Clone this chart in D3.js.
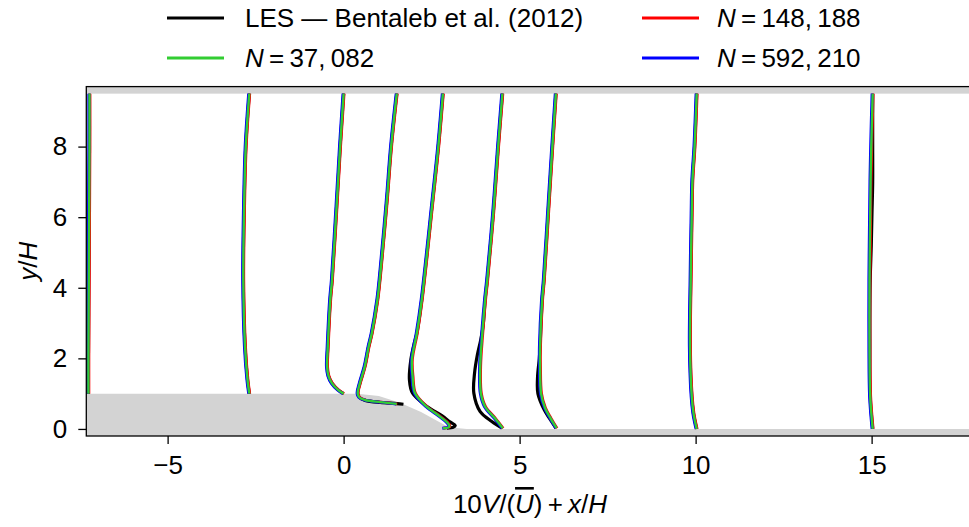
<!DOCTYPE html>
<html><head><meta charset="utf-8">
<script src="https://cdn.jsdelivr.net/npm/d3@7"></script>
<style>
html,body{margin:0;padding:0;background:#fff;}
svg{display:block;font-family:"Liberation Sans",Arial,sans-serif;}
</style></head>
<body>
<svg id="chart" width="969" height="527"></svg>
<script>
// ---------- data ----------
const xTicks = [-5, 0, 5, 10, 15];
const yTicks = [0, 2, 4, 6, 8];
const seriesNames = ["LES \u2014 Bentaleb et al. (2012)", "N = 37, 082", "N = 148, 188", "N = 592, 210"];
const seriesColors = ["#000000", "#32cd32", "#ff0000", "#0000ff"];

// hill (lower wall) outline and channel top
const hillX = [-7.31, 0.40, 1.00, 1.60, 2.20, 2.60, 2.90, 3.20, 3.50, 17.9];
const hillY = [1.00, 1.00, 0.93, 0.74, 0.48, 0.26, 0.10, 0.03, 0.00, 0.00];
const topWallY = 9.5;

// profiles: plotted value 10V/U + x/H against y/H
const sim1Y = [1.00, 2.00, 4.00, 6.00, 8.00, 9.50];
const sim1X = [-7.25, -7.25, -7.24, -7.23, -7.22, -7.22];
const les1Y = [1.00, 2.00, 4.00, 6.00, 8.00, 9.50];
const les1X = [-7.25, -7.25, -7.24, -7.23, -7.22, -7.22];

const sim2Y = [1.00, 1.39, 2.33, 4.22, 6.12, 8.00, 9.50];
const sim2X = [-2.68, -2.73, -2.80, -2.85, -2.83, -2.78, -2.68];
const les2Y = [1.00, 1.39, 2.33, 4.22, 6.12, 8.00, 9.50];
const les2X = [-2.68, -2.73, -2.80, -2.85, -2.83, -2.78, -2.68];

const sim3Y = [1.00, 1.10, 1.29, 1.50, 1.77, 2.33, 3.66, 4.22, 6.30, 8.00, 9.50];
const sim3X = [0.00, -0.15, -0.33, -0.43, -0.47, -0.45, -0.38, -0.33, -0.20, -0.10, 0.00];
const les3Y = [1.00, 1.10, 1.29, 1.50, 1.77, 2.33, 3.66, 4.22, 6.30, 8.00, 9.50];
const les3X = [0.00, -0.15, -0.33, -0.43, -0.47, -0.45, -0.38, -0.33, -0.20, -0.10, 0.00];

const sim4Y = [0.71, 0.76, 0.82, 0.89, 1.01, 1.29, 1.77, 2.33, 2.71, 3.66, 4.60, 6.49, 8.00, 9.50];
const sim4X = [1.51, 1.04, 0.61, 0.45, 0.40, 0.46, 0.60, 0.71, 0.80, 0.96, 1.06, 1.23, 1.35, 1.51];
const les4Y = [0.70, 0.72, 0.75, 0.81, 0.89, 1.01, 1.29, 1.77, 2.33, 2.71, 3.66, 4.60, 6.49, 8.00, 9.50];
const les4X = [1.70, 1.51, 1.04, 0.61, 0.45, 0.40, 0.46, 0.60, 0.71, 0.80, 0.96, 1.06, 1.23, 1.35, 1.51];

const sim5Y = [0.02, 0.06, 0.14, 0.35, 0.63, 1.01, 1.48, 1.96, 2.71, 3.66, 6.49, 8.00, 9.50];
const sim5X = [2.82, 3.00, 2.98, 2.74, 2.36, 2.03, 1.96, 1.94, 2.08, 2.22, 2.53, 2.69, 2.82];
const les5Y = [0.02, 0.05, 0.10, 0.20, 0.37, 0.63, 1.01, 1.39, 1.96, 2.40, 2.71, 3.66, 6.49, 8.00, 9.50];
const les5X = [2.93, 3.12, 3.17, 3.02, 2.80, 2.38, 1.96, 1.87, 1.91, 2.00, 2.08, 2.22, 2.53, 2.69, 2.82];

const sim6Y = [0.02, 0.30, 0.63, 1.01, 1.77, 2.71, 3.66, 4.22, 6.11, 8.00, 9.50];
const sim6X = [4.52, 4.30, 4.02, 3.90, 3.88, 3.94, 4.02, 4.08, 4.25, 4.39, 4.51];
const les6Y = [0.02, 0.21, 0.49, 1.01, 1.58, 2.10, 2.50, 2.90, 3.66, 4.22, 6.11, 8.00, 9.50];
const les6X = [4.50, 4.21, 3.88, 3.70, 3.72, 3.80, 3.89, 3.96, 4.02, 4.08, 4.25, 4.39, 4.51];

const sim7Y = [0.02, 0.30, 0.60, 1.00, 1.77, 2.33, 3.66, 4.22, 6.11, 8.00, 9.50];
const sim7X = [6.05, 5.88, 5.72, 5.61, 5.58, 5.58, 5.64, 5.69, 5.81, 5.93, 6.03];
const les7Y = [0.02, 0.30, 0.54, 1.00, 1.48, 2.00, 2.33, 3.66, 4.22, 6.11, 8.00, 9.50];
const les7X = [6.03, 5.85, 5.70, 5.52, 5.51, 5.56, 5.58, 5.64, 5.69, 5.81, 5.93, 6.03];

const sim8Y = [0.00, 0.44, 0.92, 2.33, 4.22, 6.11, 7.06, 8.00, 9.50];
const sim8X = [10.03, 9.94, 9.89, 9.84, 9.86, 9.89, 9.91, 9.97, 10.03];
const les8Y = [0.00, 0.44, 0.92, 2.33, 4.22, 6.11, 7.06, 8.00, 9.50];
const les8X = [10.03, 9.94, 9.89, 9.84, 9.86, 9.89, 9.91, 9.97, 10.03];

const sim9Y = [0.00, 0.92, 2.33, 4.22, 5.20, 6.11, 7.00, 8.00, 9.50];
const sim9X = [15.03, 14.96, 14.94, 14.94, 14.95, 14.96, 14.97, 14.99, 15.03];
const les9Y = [0.00, 0.92, 2.33, 4.22, 5.20, 6.11, 7.00, 8.00, 9.50];
const les9X = [15.03, 14.96, 14.95, 14.96, 14.99, 15.01, 15.03, 15.03, 15.03];

// ---------- build ----------
const zip = (xs, ys) => xs.map((v, i) => [v, ys[i]]);
const lesProfiles = [
  zip(les1X, les1Y), zip(les2X, les2Y), zip(les3X, les3Y), zip(les4X, les4Y), zip(les5X, les5Y),
  zip(les6X, les6Y), zip(les7X, les7Y), zip(les8X, les8Y), zip(les9X, les9Y)];
const simProfiles = [
  zip(sim1X, sim1Y), zip(sim2X, sim2Y), zip(sim3X, sim3Y), zip(sim4X, sim4Y), zip(sim5X, sim5Y),
  zip(sim6X, sim6Y), zip(sim7X, sim7Y), zip(sim8X, sim8Y), zip(sim9X, sim9Y)];

const L = 86.3, T = 86.6, R = 973.7, B = 436;
const x = d3.scaleLinear().domain([-7.31, 17.9]).range([L, R]);
const y = d3.scaleLinear().domain([-0.2, 9.7]).range([B, T]);

const svg = d3.select("#chart");
svg.append("defs").append("clipPath").attr("id", "clip")
  .append("rect").attr("x", L).attr("y", T).attr("width", R - L).attr("height", B - T);

const plot = svg.append("g").attr("clip-path", "url(#clip)");

// walls
plot.append("rect")
  .attr("x", L).attr("y", y(9.7)).attr("width", R - L).attr("height", y(topWallY) - y(9.7))
  .attr("fill", "#d3d3d3");
const hillPts = [[hillX[0], -0.2]].concat(zip(hillX, hillY)).concat([[hillX[hillX.length - 1], -0.2]]);
plot.append("path")
  .attr("d", d3.line().x(d => x(d[0])).y(d => y(d[1]))(hillPts) + "Z")
  .attr("fill", "#d3d3d3");

const line = d3.line().x(d => x(d[0])).y(d => y(d[1])).curve(d3.curveCatmullRom.alpha(0.5));

function drawSeries(profiles, color, width, dx) {
  const g = plot.append("g").attr("transform", `translate(${dx},0)`);
  g.selectAll("path").data(profiles).join("path")
    .attr("d", line).attr("fill", "none").attr("stroke", color)
    .attr("stroke-width", width).attr("stroke-linejoin", "round");
}
drawSeries(lesProfiles, seriesColors[0], 3.2, 0);
drawSeries(simProfiles, seriesColors[2], 2.8, 0.5);
drawSeries(simProfiles, seriesColors[3], 3.0, -0.6);
drawSeries(simProfiles, seriesColors[1], 2.4, 0);

// axes
const fs = 26;
const ax = svg.append("g").attr("transform", `translate(0,${B})`)
  .call(d3.axisBottom(x).tickValues(xTicks).tickSize(8).tickSizeOuter(0).tickPadding(12)
    .tickFormat(d => d < 0 ? "\u2212" + Math.abs(d) : d));
const ay = svg.append("g").attr("transform", `translate(${L},0)`)
  .call(d3.axisLeft(y).tickValues(yTicks).tickSize(8).tickSizeOuter(0).tickPadding(11));
[ax, ay].forEach(a => {
  a.select(".domain").remove();
  a.selectAll("line").attr("stroke", "#000").attr("stroke-width", 1.3);
  a.selectAll("text").attr("font-size", fs).attr("fill", "#000")
    .attr("font-family", '"Liberation Sans", Arial, sans-serif');
});

// frame (right side lies outside the window)
svg.append("rect").attr("x", L).attr("y", T).attr("width", R - L).attr("height", B - T)
  .attr("fill", "none").attr("stroke", "#000").attr("stroke-width", 1.3);

// axis labels
const xl = svg.append("text").attr("x", (L + R) / 2).attr("y", 513)
  .attr("text-anchor", "middle").attr("font-size", fs);
xl.append("tspan").text("10");
xl.append("tspan").attr("font-style", "italic").text("V");
xl.append("tspan").text("/(");
xl.append("tspan").attr("font-style", "italic").style("text-decoration", "overline").text("U");
xl.append("tspan").text(")\u2009+\u2009");
xl.append("tspan").attr("font-style", "italic").text("x");
xl.append("tspan").text("/");
xl.append("tspan").attr("font-style", "italic").text("H");

const yl = svg.append("text").attr("transform", `translate(37,${(T + B) / 2}) rotate(-90)`)
  .attr("text-anchor", "middle").attr("font-size", fs);
yl.append("tspan").attr("font-style", "italic").text("y");
yl.append("tspan").text("/");
yl.append("tspan").attr("font-style", "italic").text("H");

// legend
const legendPos = [[167, 18, 245], [167, 58, 245], [642, 18, 717], [642, 58, 717]];
seriesNames.forEach((name, i) => {
  const [lx, ly, tx] = legendPos[i];
  svg.append("line").attr("x1", lx).attr("x2", lx + 57).attr("y1", ly).attr("y2", ly)
    .attr("stroke", seriesColors[i]).attr("stroke-width", 3);
  const t = svg.append("text").attr("x", tx).attr("y", ly).attr("dy", "0.36em").attr("font-size", fs);
  if (i === 0) {
    t.text(name);
  } else {
    const num = name.split("= ")[1];
    t.append("tspan").attr("font-style", "italic").text("N");
    t.append("tspan").text("\u2009=\u2009" + num.replace(", ", ",\u2009"));
  }
});
</script>
</body></html>
